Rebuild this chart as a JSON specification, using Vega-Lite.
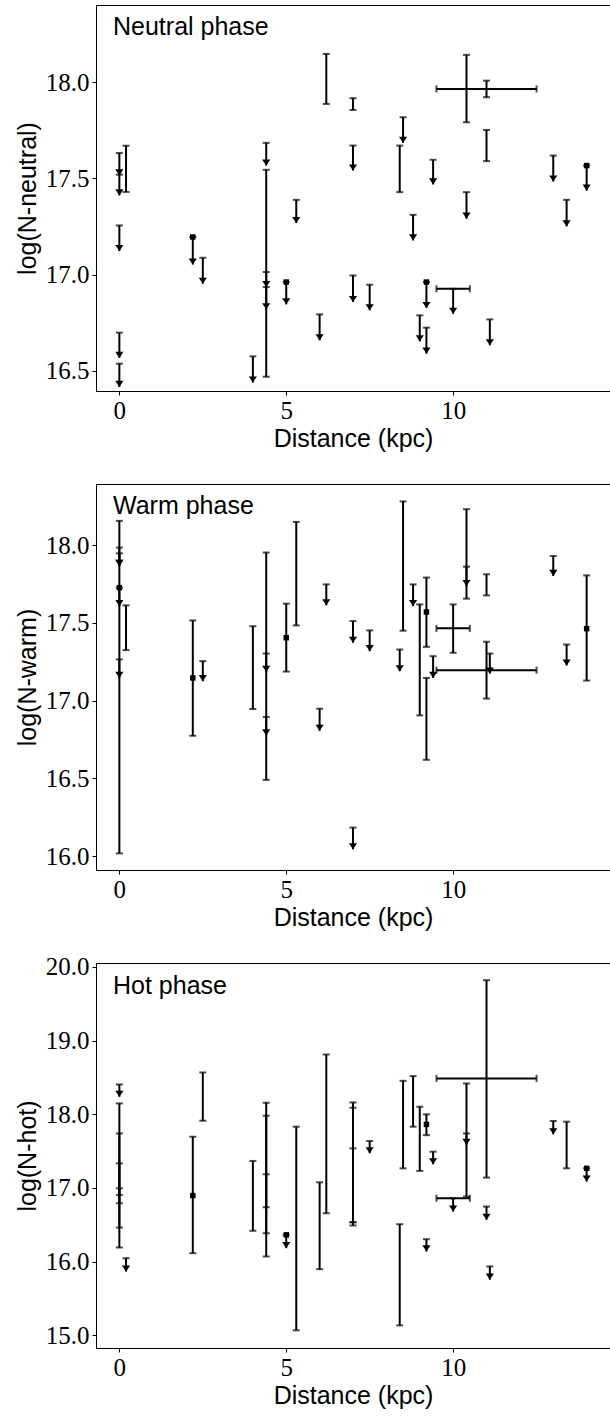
{
  "$schema": "https://vega.github.io/schema/vega-lite/v6.json",
  "background": "white",
  "padding": {"left": 14, "top": 4, "right": 0, "bottom": 0},
  "spacing": 93,
  "bounds": "flush",
  "datasets": {
    "neutral": [
      {"t": "bar", "x": 0.2, "y": 17.43, "y2": 17.67},
      {"t": "bar", "x": 4.4, "y": 16.47, "y2": 17.545},
      {"t": "bar", "x": 6.2, "y": 17.887, "y2": 18.147},
      {"t": "bar", "x": 7.0, "y": 17.856, "y2": 17.917},
      {"t": "bar", "x": 8.4, "y": 17.429, "y2": 17.671},
      {"t": "bar", "x": 10.4, "y": 17.792, "y2": 18.142},
      {"t": "bar", "x": 11.0, "y": 17.922, "y2": 18.008},
      {"t": "bar", "x": 11.0, "y": 17.59, "y2": 17.752},
      {"t": "hbar", "y": 17.965, "x": 9.5, "x2": 12.5},
      {"t": "hbar", "y": 16.927, "x": 9.5, "x2": 10.5},
      {"t": "arrow", "x": 0, "y": 17.632, "y2": 17.516},
      {"t": "arrow", "x": 0, "y": 17.52, "y2": 17.412},
      {"t": "arrow", "x": 0, "y": 17.256, "y2": 17.123},
      {"t": "arrow", "x": 0, "y": 16.699, "y2": 16.568},
      {"t": "arrow", "x": 0, "y": 16.538, "y2": 16.417},
      {"t": "arrow", "x": 2.2, "y": 17.196, "y2": 17.053},
      {"t": "arrow", "x": 2.5, "y": 17.088, "y2": 16.953},
      {"t": "arrow", "x": 4.0, "y": 16.576, "y2": 16.44},
      {"t": "arrow", "x": 4.4, "y": 17.685, "y2": 17.567},
      {"t": "arrow", "x": 4.4, "y": 17.014, "y2": 16.936},
      {"t": "arrow", "x": 4.4, "y": 16.936, "y2": 16.82},
      {"t": "arrow", "x": 5.0, "y": 16.962, "y2": 16.846},
      {"t": "arrow", "x": 5.3, "y": 17.389, "y2": 17.268},
      {"t": "arrow", "x": 6.0, "y": 16.794, "y2": 16.659},
      {"t": "arrow", "x": 7.0, "y": 17.671, "y2": 17.541},
      {"t": "arrow", "x": 7.0, "y": 16.996, "y2": 16.858},
      {"t": "arrow", "x": 7.5, "y": 16.948, "y2": 16.815},
      {"t": "arrow", "x": 8.5, "y": 17.818, "y2": 17.685},
      {"t": "arrow", "x": 8.8, "y": 17.311, "y2": 17.178},
      {"t": "arrow", "x": 9.0, "y": 16.789, "y2": 16.654},
      {"t": "arrow", "x": 9.2, "y": 16.962, "y2": 16.827},
      {"t": "arrow", "x": 9.2, "y": 16.725, "y2": 16.59},
      {"t": "arrow", "x": 9.4, "y": 17.597, "y2": 17.469},
      {"t": "arrow", "x": 10.0, "y": 16.927, "y2": 16.797},
      {"t": "arrow", "x": 10.4, "y": 17.429, "y2": 17.291},
      {"t": "arrow", "x": 11.1, "y": 16.768, "y2": 16.633},
      {"t": "arrow", "x": 13.0, "y": 17.619, "y2": 17.484},
      {"t": "arrow", "x": 13.4, "y": 17.389, "y2": 17.251},
      {"t": "arrow", "x": 14.0, "y": 17.567, "y2": 17.437},
      {"t": "sq", "x": 2.2, "y": 17.196},
      {"t": "sq", "x": 5.0, "y": 16.962},
      {"t": "sq", "x": 9.2, "y": 16.962},
      {"t": "sq", "x": 14.0, "y": 17.567}
    ],
    "warm": [
      {"t": "bar", "x": 0, "y": 16.017, "y2": 18.157},
      {"t": "bar", "x": 0.2, "y": 17.325, "y2": 17.613},
      {"t": "bar", "x": 2.2, "y": 16.774, "y2": 17.516},
      {"t": "bar", "x": 4.0, "y": 16.946, "y2": 17.479},
      {"t": "bar", "x": 4.4, "y": 16.49, "y2": 17.953},
      {"t": "bar", "x": 5.0, "y": 17.187, "y2": 17.624},
      {"t": "bar", "x": 5.3, "y": 17.484, "y2": 18.15},
      {"t": "bar", "x": 8.5, "y": 17.45, "y2": 18.282},
      {"t": "bar", "x": 9.2, "y": 17.346, "y2": 17.792},
      {"t": "bar", "x": 9.0, "y": 16.905, "y2": 17.619},
      {"t": "bar", "x": 9.2, "y": 16.619, "y2": 17.146},
      {"t": "bar", "x": 10.0, "y": 17.308, "y2": 17.619},
      {"t": "bar", "x": 10.4, "y": 17.656, "y2": 18.232},
      {"t": "bar", "x": 11.0, "y": 17.677, "y2": 17.813},
      {"t": "bar", "x": 11.0, "y": 17.013, "y2": 17.379},
      {"t": "bar", "x": 14.0, "y": 17.129, "y2": 17.806},
      {"t": "hbar", "y": 17.465, "x": 9.5, "x2": 10.5},
      {"t": "hbar", "y": 17.196, "x": 9.5, "x2": 12.5},
      {"t": "arrow", "x": 0, "y": 17.985, "y2": 17.867},
      {"t": "arrow", "x": 0, "y": 17.948, "y2": 17.867},
      {"t": "arrow", "x": 0, "y": 17.727, "y2": 17.608},
      {"t": "arrow", "x": 0, "y": 17.265, "y2": 17.146},
      {"t": "arrow", "x": 2.5, "y": 17.254, "y2": 17.125},
      {"t": "arrow", "x": 4.4, "y": 17.303, "y2": 17.185},
      {"t": "arrow", "x": 4.4, "y": 16.895, "y2": 16.776},
      {"t": "arrow", "x": 6.2, "y": 17.748, "y2": 17.613},
      {"t": "arrow", "x": 7.0, "y": 17.512, "y2": 17.372},
      {"t": "arrow", "x": 7.5, "y": 17.452, "y2": 17.318},
      {"t": "arrow", "x": 7.0, "y": 16.183, "y2": 16.043},
      {"t": "arrow", "x": 6.0, "y": 16.948, "y2": 16.806},
      {"t": "arrow", "x": 8.4, "y": 17.329, "y2": 17.189},
      {"t": "arrow", "x": 8.8, "y": 17.748, "y2": 17.608},
      {"t": "arrow", "x": 9.4, "y": 17.286, "y2": 17.146},
      {"t": "arrow", "x": 10.4, "y": 17.862, "y2": 17.737},
      {"t": "arrow", "x": 11.1, "y": 17.303, "y2": 17.174},
      {"t": "arrow", "x": 13.0, "y": 17.931, "y2": 17.802},
      {"t": "arrow", "x": 13.4, "y": 17.361, "y2": 17.226},
      {"t": "sq", "x": 2.2, "y": 17.146},
      {"t": "sq", "x": 5.0, "y": 17.405},
      {"t": "sq", "x": 9.2, "y": 17.57},
      {"t": "sq", "x": 14.0, "y": 17.463},
      {"t": "sq", "x": 0, "y": 17.727}
    ],
    "hot": [
      {"t": "bar", "x": 0, "y": 16.192, "y2": 18.148},
      {"t": "bar", "x": 0, "y": 16.463, "y2": 17.741},
      {"t": "bar", "x": 0, "y": 16.793, "y2": 17.335},
      {"t": "bar", "x": 0, "y": 16.906, "y2": 16.996},
      {"t": "bar", "x": 2.2, "y": 16.115, "y2": 17.696},
      {"t": "bar", "x": 2.5, "y": 17.913, "y2": 18.568},
      {"t": "bar", "x": 4.0, "y": 16.419, "y2": 17.367},
      {"t": "bar", "x": 4.4, "y": 16.07, "y2": 18.157},
      {"t": "bar", "x": 4.4, "y": 16.386, "y2": 17.981},
      {"t": "bar", "x": 4.4, "y": 16.739, "y2": 17.186},
      {"t": "bar", "x": 5.3, "y": 15.068, "y2": 17.832},
      {"t": "bar", "x": 6.0, "y": 15.898, "y2": 17.077},
      {"t": "bar", "x": 6.2, "y": 16.657, "y2": 18.812},
      {"t": "bar", "x": 7.0, "y": 16.491, "y2": 18.161},
      {"t": "bar", "x": 7.0, "y": 16.535, "y2": 18.089},
      {"t": "bar", "x": 7.0, "y": 16.535, "y2": 17.538},
      {"t": "bar", "x": 8.5, "y": 17.267, "y2": 18.455},
      {"t": "bar", "x": 8.4, "y": 15.135, "y2": 16.508},
      {"t": "bar", "x": 8.8, "y": 17.832, "y2": 18.519},
      {"t": "bar", "x": 9.0, "y": 17.232, "y2": 18.103},
      {"t": "bar", "x": 9.2, "y": 17.717, "y2": 18.0},
      {"t": "bar", "x": 10.4, "y": 16.883, "y2": 18.419},
      {"t": "bar", "x": 11.0, "y": 17.141, "y2": 19.82},
      {"t": "bar", "x": 13.4, "y": 17.267, "y2": 17.9},
      {"t": "hbar", "y": 18.487, "x": 9.5, "x2": 12.5},
      {"t": "hbar", "y": 16.861, "x": 9.5, "x2": 10.5},
      {"t": "arrow", "x": 0, "y": 18.405, "y2": 18.238},
      {"t": "arrow", "x": 0.2, "y": 16.047, "y2": 15.866},
      {"t": "arrow", "x": 5.0, "y": 16.364, "y2": 16.183},
      {"t": "arrow", "x": 7.5, "y": 17.638, "y2": 17.47},
      {"t": "arrow", "x": 9.4, "y": 17.493, "y2": 17.321},
      {"t": "arrow", "x": 9.2, "y": 16.305, "y2": 16.138},
      {"t": "arrow", "x": 10.0, "y": 16.861, "y2": 16.68},
      {"t": "arrow", "x": 10.4, "y": 17.741, "y2": 17.584},
      {"t": "arrow", "x": 11.0, "y": 16.748, "y2": 16.568},
      {"t": "arrow", "x": 11.1, "y": 15.935, "y2": 15.755},
      {"t": "arrow", "x": 13.0, "y": 17.909, "y2": 17.728},
      {"t": "arrow", "x": 14.0, "y": 17.267, "y2": 17.087},
      {"t": "sq", "x": 2.2, "y": 16.897},
      {"t": "sq", "x": 9.2, "y": 17.863},
      {"t": "sq", "x": 5.0, "y": 16.364},
      {"t": "sq", "x": 14.0, "y": 17.267}
    ]
  },
  "vconcat": [
    {
      "width": 514, "height": 386,
      "title": {"text": "Neutral phase", "offset": -35},
      "data": {"name": "neutral"},
      "encoding": {
        "x": {"field": "x", "type": "quantitative", "title": "Distance (kpc)", "scale": {"domain": [-0.7, 14.7], "nice": false, "zero": false}, "axis": {"values": [0, 5, 10], "format": "d"}},
        "y": {"field": "y", "type": "quantitative", "title": "log(N-neutral)", "scale": {"domain": [16.396, 18.401], "nice": false, "zero": false}, "axis": {"values": [16.5, 17.0, 17.5, 18.0], "format": ".1f"}}
      },
      "layer": [
        {"transform": [{"filter": "datum.t == 'bar' || datum.t == 'arrow'"}], "mark": {"type": "rule", "strokeWidth": 2, "color": "black"}, "encoding": {"y2": {"field": "y2"}}},
        {"transform": [{"filter": "datum.t == 'bar' || datum.t == 'arrow'"}], "mark": {"type": "tick", "orient": "horizontal", "size": 7, "thickness": 2, "color": "black"}, "encoding": {}},
        {"transform": [{"filter": "datum.t == 'bar'"}], "mark": {"type": "tick", "orient": "horizontal", "size": 7, "thickness": 2, "color": "black"}, "encoding": {"y": {"field": "y2", "type": "quantitative", "title": "log(N-neutral)"}}},
        {"transform": [{"filter": "datum.t == 'arrow'"}], "mark": {"type": "point", "shape": "M-0.67,-1L0.67,-1L0,0Z", "size": 150, "filled": true, "opacity": 1, "color": "black"}, "encoding": {"y": {"field": "y2", "type": "quantitative", "title": "log(N-neutral)"}}},
        {"transform": [{"filter": "datum.t == 'hbar'"}], "mark": {"type": "rule", "strokeWidth": 2, "color": "black"}, "encoding": {"x2": {"field": "x2"}}},
        {"transform": [{"filter": "datum.t == 'hbar'"}], "mark": {"type": "tick", "orient": "vertical", "size": 7, "thickness": 2, "color": "black"}, "encoding": {}},
        {"transform": [{"filter": "datum.t == 'hbar'"}], "mark": {"type": "tick", "orient": "vertical", "size": 7, "thickness": 2, "color": "black"}, "encoding": {"x": {"field": "x2", "type": "quantitative", "title": "Distance (kpc)"}}},
        {"transform": [{"filter": "datum.t == 'sq'"}], "mark": {"type": "square", "size": 30, "filled": true, "opacity": 1, "color": "black"}, "encoding": {}}
      ]
    },
    {
      "width": 514, "height": 386,
      "title": {"text": "Warm phase", "offset": -35},
      "data": {"name": "warm"},
      "encoding": {
        "x": {"field": "x", "type": "quantitative", "title": "Distance (kpc)", "scale": {"domain": [-0.7, 14.7], "nice": false, "zero": false}, "axis": {"values": [0, 5, 10], "format": "d"}},
        "y": {"field": "y", "type": "quantitative", "title": "log(N-warm)", "scale": {"domain": [15.91, 18.394], "nice": false, "zero": false}, "axis": {"values": [16.0, 16.5, 17.0, 17.5, 18.0], "format": ".1f"}}
      },
      "layer": [
        {"transform": [{"filter": "datum.t == 'bar' || datum.t == 'arrow'"}], "mark": {"type": "rule", "strokeWidth": 2, "color": "black"}, "encoding": {"y2": {"field": "y2"}}},
        {"transform": [{"filter": "datum.t == 'bar' || datum.t == 'arrow'"}], "mark": {"type": "tick", "orient": "horizontal", "size": 7, "thickness": 2, "color": "black"}, "encoding": {}},
        {"transform": [{"filter": "datum.t == 'bar'"}], "mark": {"type": "tick", "orient": "horizontal", "size": 7, "thickness": 2, "color": "black"}, "encoding": {"y": {"field": "y2", "type": "quantitative", "title": "log(N-warm)"}}},
        {"transform": [{"filter": "datum.t == 'arrow'"}], "mark": {"type": "point", "shape": "M-0.67,-1L0.67,-1L0,0Z", "size": 150, "filled": true, "opacity": 1, "color": "black"}, "encoding": {"y": {"field": "y2", "type": "quantitative", "title": "log(N-warm)"}}},
        {"transform": [{"filter": "datum.t == 'hbar'"}], "mark": {"type": "rule", "strokeWidth": 2, "color": "black"}, "encoding": {"x2": {"field": "x2"}}},
        {"transform": [{"filter": "datum.t == 'hbar'"}], "mark": {"type": "tick", "orient": "vertical", "size": 7, "thickness": 2, "color": "black"}, "encoding": {}},
        {"transform": [{"filter": "datum.t == 'hbar'"}], "mark": {"type": "tick", "orient": "vertical", "size": 7, "thickness": 2, "color": "black"}, "encoding": {"x": {"field": "x2", "type": "quantitative", "title": "Distance (kpc)"}}},
        {"transform": [{"filter": "datum.t == 'sq'"}], "mark": {"type": "square", "size": 30, "filled": true, "opacity": 1, "color": "black"}, "encoding": {}}
      ]
    },
    {
      "width": 514, "height": 385,
      "title": {"text": "Hot phase", "offset": -44},
      "data": {"name": "hot"},
      "encoding": {
        "x": {"field": "x", "type": "quantitative", "title": "Distance (kpc)", "scale": {"domain": [-0.7, 14.7], "nice": false, "zero": false}, "axis": {"values": [0, 5, 10], "format": "d"}},
        "y": {"field": "y", "type": "quantitative", "title": "log(N-hot)", "scale": {"domain": [14.828, 20.054], "nice": false, "zero": false}, "axis": {"values": [15, 16, 17, 18, 19, 20], "format": ".1f"}}
      },
      "layer": [
        {"transform": [{"filter": "datum.t == 'bar' || datum.t == 'arrow'"}], "mark": {"type": "rule", "strokeWidth": 2, "color": "black"}, "encoding": {"y2": {"field": "y2"}}},
        {"transform": [{"filter": "datum.t == 'bar' || datum.t == 'arrow'"}], "mark": {"type": "tick", "orient": "horizontal", "size": 7, "thickness": 2, "color": "black"}, "encoding": {}},
        {"transform": [{"filter": "datum.t == 'bar'"}], "mark": {"type": "tick", "orient": "horizontal", "size": 7, "thickness": 2, "color": "black"}, "encoding": {"y": {"field": "y2", "type": "quantitative", "title": "log(N-hot)"}}},
        {"transform": [{"filter": "datum.t == 'arrow'"}], "mark": {"type": "point", "shape": "M-0.67,-1L0.67,-1L0,0Z", "size": 150, "filled": true, "opacity": 1, "color": "black"}, "encoding": {"y": {"field": "y2", "type": "quantitative", "title": "log(N-hot)"}}},
        {"transform": [{"filter": "datum.t == 'hbar'"}], "mark": {"type": "rule", "strokeWidth": 2, "color": "black"}, "encoding": {"x2": {"field": "x2"}}},
        {"transform": [{"filter": "datum.t == 'hbar'"}], "mark": {"type": "tick", "orient": "vertical", "size": 7, "thickness": 2, "color": "black"}, "encoding": {}},
        {"transform": [{"filter": "datum.t == 'hbar'"}], "mark": {"type": "tick", "orient": "vertical", "size": 7, "thickness": 2, "color": "black"}, "encoding": {"x": {"field": "x2", "type": "quantitative", "title": "Distance (kpc)"}}},
        {"transform": [{"filter": "datum.t == 'sq'"}], "mark": {"type": "square", "size": 30, "filled": true, "opacity": 1, "color": "black"}, "encoding": {}}
      ]
    }
  ],
  "config": {
    "view": {"stroke": "black", "strokeWidth": 1},
    "axis": {"grid": false, "domainColor": "black", "domainWidth": 1, "tickColor": "black", "tickWidth": 1, "tickSize": 4, "labelColor": "black", "labelFont": "Liberation Serif", "labelFontSize": 25, "labelPadding": 3, "titleColor": "black", "titleFont": "Liberation Sans", "titleFontSize": 25, "titleFontWeight": "normal", "labelFlush": false, "labelOverlap": false, "labelBound": false},
    "axisX": {"titlePadding": 3},
    "axisY": {"titlePadding": 5},
    "title": {"anchor": "start", "frame": "group", "orient": "top", "baseline": "alphabetic", "dx": 17, "font": "Liberation Sans", "fontSize": 25, "fontWeight": "normal", "color": "black"}
  }
}
